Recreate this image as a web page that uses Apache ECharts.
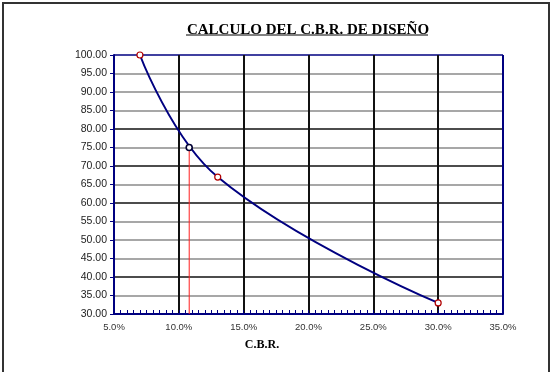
<!DOCTYPE html>
<html>
<head>
<meta charset="utf-8">
<script src="https://cdn.jsdelivr.net/npm/echarts@6/dist/echarts.min.js"></script>
<style>html,body{margin:0;padding:0;background:#fff}#c{width:553px;height:372px}</style>
</head>
<body>
<div id="c"></div>
<script>
var curveCbr = [7.0, 13.0, 30.0];
var curvePct = [100, 67, 33];
var designCbr = 10.8;
var designPct = 75;
var yMin = 30, yMax = 100, yStep = 5;
var xMin = 5, xMax = 35, xStep = 5;
var titleText = 'CALCULO DEL C.B.R. DE DISEÑO';
var xName = 'C.B.R.';

var ySplitColors = [];
for (var v = yMin; v <= yMax; v += yStep) {
  if (v === yMin || v === yMax) ySplitColors.push('#000080');
  else if (v === 40 || v === 60 || v === 70 || v === 80) ySplitColors.push('#111');
  else ySplitColors.push('#8a8a8a');
}
var xSplitColors = [];
for (var u = xMin; u <= xMax; u += xStep) {
  xSplitColors.push(u === xMin || u === xMax ? '#000080' : '#111');
}

var curveData = curveCbr.map(function (x, i) { return [x, curvePct[i]]; });

var chart = echarts.init(document.getElementById('c'));
chart.setOption({
  animation: false,
  title: {
    text: titleText,
    left: 303, top: 18, textAlign: 'center',
    textStyle: { fontFamily: 'Liberation Serif', fontWeight: 'bold', fontSize: 15, color: '#000' }
  },
  graphic: [
    { type: 'rect', shape: { x: 3, y: 3, width: 546, height: 380 }, style: { fill: 'none', stroke: '#333', lineWidth: 2 }, silent: true },
    { type: 'line', shape: { x1: 186, y1: 35, x2: 428, y2: 35 }, style: { stroke: '#000', lineWidth: 1 }, silent: true },
    { type: 'text', x: 262, y: 345, style: { text: xName, fontFamily: 'Liberation Serif', fontWeight: 'bold', fontSize: 12, fill: '#000', align: 'center', verticalAlign: 'middle' }, silent: true }
  ],
  grid: { left: 114, right: 50, top: 55, bottom: 58, containLabel: false },
  xAxis: {
    type: 'value', min: xMin, max: xMax, interval: xStep,
    axisLine: { lineStyle: { color: '#000080', width: 2 } },
    axisTick: { inside: true, length: 4, lineStyle: { color: '#000080' } },
    minorTick: { show: true, splitNumber: 10, length: 4, lineStyle: { color: '#000080' } },
    axisLabel: { formatter: function (v) { return v.toFixed(1) + '%'; }, fontFamily: 'Liberation Sans', fontSize: 9.5, color: '#333', margin: 8 },
    splitLine: { show: true, lineStyle: { color: xSplitColors, width: 2 } }
  },
  yAxis: {
    type: 'value', min: yMin, max: yMax, interval: yStep,
    axisLine: { show: true, lineStyle: { color: '#000080', width: 2 } },
    axisTick: { show: true, length: 4, lineStyle: { color: '#000080' } },
    axisLabel: { formatter: function (v) { return v.toFixed(2); }, fontFamily: 'Liberation Sans', fontSize: 10.5, color: '#222', margin: 7 },
    splitLine: { show: true, lineStyle: { color: ySplitColors, width: 1.5 } }
  },
  series: [
    {
      type: 'line', z: 2,
      data: [[designCbr, designPct], [designCbr, yMin]],
      symbol: 'none',
      lineStyle: { color: '#ff2020', width: 1 }
    },
    {
      type: 'line', z: 3,
      data: curveData,
      smooth: 0.42,
      symbol: 'circle', symbolSize: 6, showAllSymbol: true,
      itemStyle: { color: '#fff', borderColor: '#b00000', borderWidth: 1.2 },
      lineStyle: { color: '#000080', width: 2 }
    },
    {
      type: 'scatter', z: 4,
      data: [[designCbr, designPct]],
      symbol: 'circle', symbolSize: 6,
      itemStyle: { color: '#fff', borderColor: '#000033', borderWidth: 1.6, opacity: 1 }
    }
  ]
});
</script>
</body>
</html>
